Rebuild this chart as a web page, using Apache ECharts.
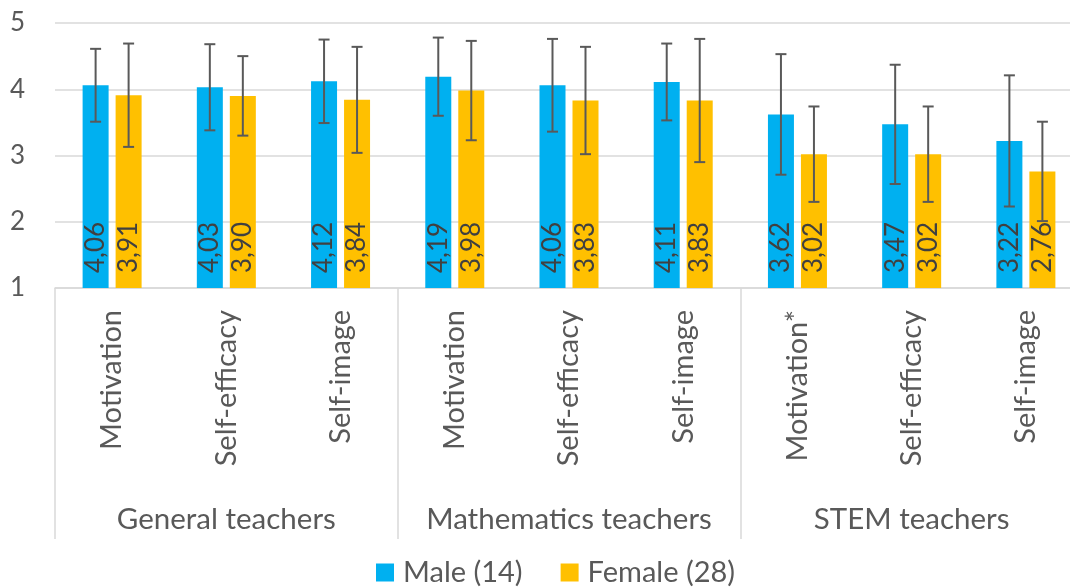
<!DOCTYPE html>
<html>
<head>
<meta charset="utf-8">
<script src="https://cdn.jsdelivr.net/npm/echarts@6/dist/echarts.min.js"></script>
<style>
html,body{margin:0;padding:0;background:#fff;overflow:hidden;width:1070px;height:588px;}
#c{width:1083px;height:588px;}
</style>
</head>
<body>
<div id="c"></div>
<script>
const categories = ['Motivation','Self-efficacy','Self-image','Motivation','Self-efficacy','Self-image','Motivation*','Self-efficacy','Self-image'];
const groups = ['General teachers','Mathematics teachers','STEM teachers'];
const maleName = 'Male (14)';
const femaleName = 'Female (28)';
const maleMean = [4.06,4.03,4.12,4.19,4.06,4.11,3.62,3.47,3.22];
const femaleMean = [3.91,3.90,3.84,3.98,3.83,3.83,3.02,3.02,2.76];
const maleSD = [0.55,0.65,0.63,0.59,0.70,0.58,0.91,0.90,0.99];
const femaleSD = [0.78,0.60,0.80,0.75,0.81,0.93,0.72,0.72,0.75];
const yTicks = [1,2,3,4,5];

const FONT = 'Lato';
const TXT = '#595959';
const GRID = '#d9d9d9';
const BAR_W = 26;
const GAP = 7;

function errItem(sign){
  return function(params, api){
    const i = api.value(0), m = api.value(1), s = api.value(2);
    const top = api.coord([i, m + s]);
    const bot = api.coord([i, m - s]);
    const x = top[0] + sign * (BAR_W / 2 + GAP / 2);
    const style = {stroke:'#595959', lineWidth:2};
    const cap = 5.5;
    return {type:'group', children:[
      {type:'line', shape:{x1:x,y1:top[1],x2:x,y2:bot[1]}, style},
      {type:'line', shape:{x1:x-cap,y1:top[1],x2:x+cap,y2:top[1]}, style},
      {type:'line', shape:{x1:x-cap,y1:bot[1],x2:x+cap,y2:bot[1]}, style}
    ]};
  };
}

const fmt = p => p.value.toFixed(2).replace('.', ',');
const barLabel = {show:true, position:'insideBottom', rotate:90, distance:15, align:'left', verticalAlign:'middle', formatter:fmt, fontSize:26, color:'#404040', fontFamily:FONT};

const chart = echarts.init(document.getElementById('c'));
chart.setOption({
  animation:false,
  textStyle:{fontFamily:FONT},
  grid:{left:55, right:0, top:23, bottom:300, containLabel:false},
  legend:{
    data:[maleName, femaleName], left:376, top:558, icon:'rect', itemWidth:18, itemHeight:18, itemGap:38, padding:0,
    textStyle:{fontSize:29, lineHeight:29, color:TXT, fontFamily:FONT, padding:[0,0,0,4]}
  },
  xAxis:[
    {type:'category', data:categories, position:'bottom',
     axisLine:{show:true, lineStyle:{color:GRID, width:1.5}}, axisTick:{show:false},
     axisLabel:{rotate:90, margin:22, fontSize:29, color:TXT, fontFamily:FONT, interval:0}},
    {type:'category', data:groups, position:'bottom', offset:0,
     axisLine:{show:false},
     axisTick:{show:true, length:251, interval:0, lineStyle:{color:GRID, width:1.5}},
     axisLabel:{margin:216, fontSize:29.5, color:TXT, fontFamily:FONT, interval:0}}
  ],
  yAxis:{type:'value', min:1, max:5, interval:1,
    axisLine:{show:false}, axisTick:{show:false},
    splitLine:{lineStyle:{color:GRID, width:1.5}},
    axisLabel:{margin:30, fontSize:26, color:TXT, fontFamily:FONT,
      formatter: v => yTicks.includes(v) ? String(v) : ''}},
  series:[
    {name:maleName, type:'bar', xAxisIndex:0, data:maleMean, barWidth:BAR_W, barGap:(GAP/BAR_W*100)+'%',
     itemStyle:{color:'#00B0F0'}, label:barLabel},
    {name:femaleName, type:'bar', xAxisIndex:0, data:femaleMean, barWidth:BAR_W,
     itemStyle:{color:'#FFC000'}, label:barLabel},
    {name:'maleErr', type:'custom', xAxisIndex:0, renderItem:errItem(-1),
     data:maleMean.map((m,i)=>[i,m,maleSD[i]]), encode:{x:0,y:1}, z:5},
    {name:'femaleErr', type:'custom', xAxisIndex:0, renderItem:errItem(1),
     data:femaleMean.map((m,i)=>[i,m,femaleSD[i]]), encode:{x:0,y:1}, z:5}
  ]
});
</script>
</body>
</html>
